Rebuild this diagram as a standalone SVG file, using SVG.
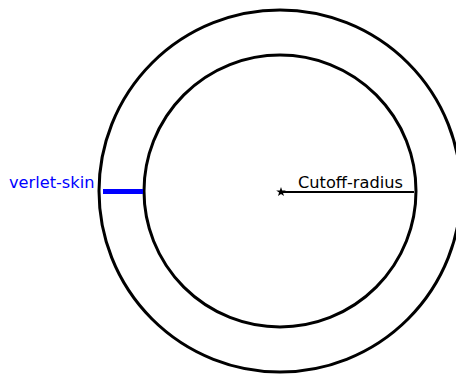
<svg xmlns="http://www.w3.org/2000/svg" width="456" height="376" viewBox="0 0 456 376">
<style>
.ring{fill:none;stroke:#000;stroke-width:3}
.lbl{font-family:"DejaVu Sans",sans-serif;font-size:16.2px}
</style>
<rect width="456" height="376" fill="#fff"/>
<g id="outer-circle"><circle class="ring" cx="280" cy="191" r="181"/></g>
<g id="inner-circle"><circle class="ring" cx="280" cy="191" r="136"/></g>
<g id="center"><polygon points="281,187 282.2,190.4 285.8,190.5 282.9,192.6 284,196 281,194 278,196 279.1,192.6 276.2,190.5 279.8,190.4" fill="#000"/></g>
<g id="connectors">
<line x1="281" y1="192" x2="414" y2="192" stroke="#000" stroke-width="2"/>
<line x1="103" y1="191.5" x2="143" y2="191.5" stroke="#0000ff" stroke-width="5"/>
</g>
<g id="cutoff-label"><text class="lbl" x="298" y="188">Cutoff-radius</text></g>
<g id="skin-label"><text class="lbl" x="9" y="188" fill="#0000ff">verlet-skin</text></g>
</svg>
